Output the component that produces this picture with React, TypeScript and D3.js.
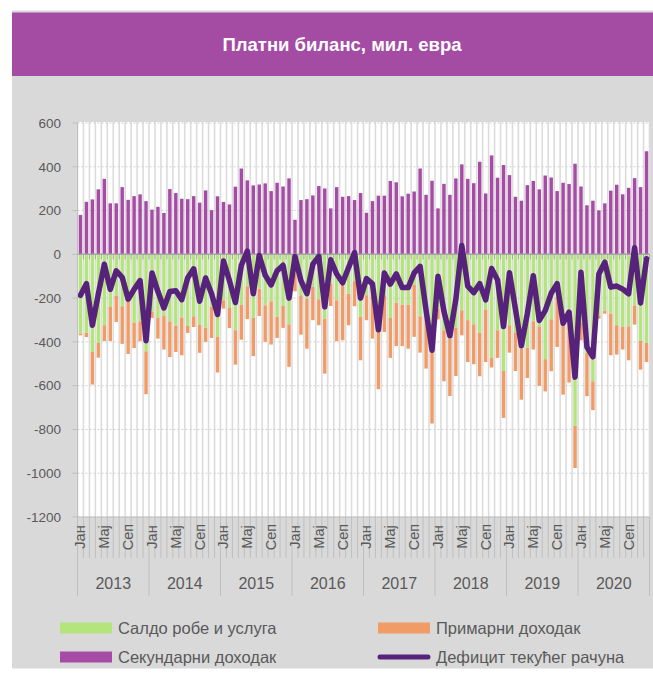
import React from 'react';
import * as d3 from 'd3';

// монатни подаци 2013-2020, мил. евра
const years = [2013, 2014, 2015, 2016, 2017, 2018, 2019, 2020];
const months = ['Јан', 'Феб', 'Мар', 'Апр', 'Мај', 'Јун', 'Јул', 'Авг', 'Сеп', 'Окт', 'Нов', 'Дец'];

const goods = [
  -362, -358, -446, -405, -324, -240, -190, -237, -215, -312, -306, -443,
  -263, -291, -279, -306, -327, -289, -327, -283, -321, -336, -240, -377,
  -210, -244, -347, -230, -146, -291, -157, -233, -215, -286, -236, -320,
  -88, -187, -202, -149, -205, -294, -134, -210, -139, -180, -123, -286,
  -187, -157, -355, -187, -291, -221, -230, -230, -139, -283, -256, -446,
  -248, -347, -385, -336, -256, -301, -320, -359, -253, -472, -347, -533,
  -324, -359, -431, -428, -306, -329, -479, -297, -195, -324, -271, -784,
  -312, -451, -580, -279, -259, -271, -324, -332, -329, -233, -396, -405,
];

const primary = [
  -8, -20, -149, -67, -72, -156, -119, -172, -240, -116, -91, -196,
  -28, -94, -156, -163, -119, -172, -32, -49, -129, -64, -142, -163,
  -38, -93, -157, -160, -150, -174, -125, -167, -197, -96, -100, -194,
  -81, -180, -229, -152, -119, -251, -102, -187, -254, -144, -114, -198,
  -114, -228, -261, -168, -182, -198, -189, -201, -238, -166, -266, -327,
  -49, -233, -262, -220, -114, -191, -182, -198, -239, -45, -126, -214,
  -125, -174, -233, -137, -129, -272, -147, -237, -228, -317, -315, -192,
  -81, -197, -132, -15, -12, -190, -134, -103, -155, -88, -131, -87,
];

const secondary = [
  180, 240, 251, 297, 345, 233, 233, 307, 249, 266, 274, 243,
  204, 217, 189, 298, 280, 254, 252, 266, 236, 292, 202, 265,
  239, 228, 309, 392, 338, 315, 319, 324, 289, 327, 310, 347,
  158, 248, 252, 269, 312, 301, 210, 307, 263, 266, 248, 280,
  190, 243, 268, 268, 335, 329, 265, 277, 287, 392, 272, 336,
  210, 322, 272, 347, 411, 345, 325, 423, 278, 452, 350, 408,
  362, 263, 245, 316, 335, 297, 360, 351, 289, 327, 321, 414,
  310, 224, 245, 201, 233, 291, 318, 274, 304, 348, 307, 471,
];

const currentAccount = [
  -187, -134, -324, -180, -45, -160, -75, -105, -205, -160, -120, -395,
  -85, -170, -245, -170, -166, -207, -107, -66, -214, -108, -180, -275,
  -30, -120, -220, -50, 15, -180, -5, -95, -140, -75, -50, -200,
  -10, -120, -180, -45, -10, -240, -25, -90, -130, -60, 8, -200,
  -111, -135, -345, -85, -136, -89, -152, -152, -85, -55, -255, -438,
  -100, -260, -372, -205, 40, -145, -175, -134, -208, -65, -117, -330,
  -84, -250, -418, -270, -98, -302, -257, -178, -134, -315, -264, -561,
  -82, -424, -468, -90, -36, -150, -145, -159, -180, 30, -222, -20,
];

const yTicks = [600, 400, 200, 0, -200, -400, -600, -800, -1000, -1200];

const legendItems = [
  { label: 'Салдо робе и услуга', color: '#b3e57c', type: 'rect' },
  { label: 'Примарни доходак', color: '#f19c66', type: 'rect' },
  { label: 'Секундарни доходак', color: '#a64ca6', type: 'rect' },
  { label: 'Дефицит текућег рачуна', color: '#57227b', type: 'line' },
];

const W = 653;
const H = 675;
const plot = { left: 77.5, right: 649.5, top: 123, bottom: 517 };
const font = '"Liberation Sans", Arial, sans-serif';
const textColor = '#595959';

export default function App() {
  const idx = d3.range(years.length * 12);
  const x = d3
    .scaleBand<number>()
    .domain(idx)
    .range([plot.left, plot.right])
    .paddingInner(0.42)
    .paddingOuter(0.21);
  const step = x.step();
  const y = d3.scaleLinear().domain([-1200, 600]).range([plot.bottom, plot.top]);
  const cx = (i: number) => (x(i) as number) + x.bandwidth() / 2;
  const edge = (i: number) => plot.left + i * step;

  const line = d3
    .line<number>()
    .x((d, i) => cx(i))
    .y(d => y(d));

  return (
    <svg width={W} height={H} style={{ position: 'absolute', left: 0, top: 0 }} fontFamily={font}>
      <rect x={0} y={0} width={W} height={H} fill="#fff" />
      <rect x={12} y={10.5} width={W - 12} height={658} fill="#d9d9d9" />
      <rect x={12} y={12.5} width={W - 12} height={63.5} fill="#a44ba4" />
      <text x={342} y={51} textAnchor="middle" fill="#fff" fontWeight="bold" fontSize={18.5}>
        Платни биланс, мил. евра
      </text>

      <rect x={plot.left} y={plot.top - 1} width={plot.right - plot.left} height={plot.bottom - plot.top + 1} fill="#fff" />

      {/* вертикалне линије мреже */}
      {d3.range(idx.length + 1).map(i => (
        <line key={'v' + i} x1={edge(i)} x2={edge(i)} y1={plot.top - 1} y2={plot.bottom} stroke="#dcdcdc" strokeWidth={1.6} />
      ))}
      {yTicks.map(t => (
        <line key={'h' + t} x1={plot.left} x2={plot.right} y1={y(t)} y2={y(t)} stroke="#cfcfcf" strokeWidth={1} strokeDasharray="2,2" />
      ))}

      {/* стубови */}
      {idx.map(i => (
        <g key={'b' + i}>
          <rect x={x(i)} width={x.bandwidth()} y={y(secondary[i])} height={y(0) - y(secondary[i])} fill="#a64ca6" />
          <rect x={x(i)} width={x.bandwidth()} y={y(0)} height={y(goods[i]) - y(0)} fill="#b3e57c" />
          <rect
            x={x(i)}
            width={x.bandwidth()}
            y={y(goods[i])}
            height={y(goods[i] + primary[i]) - y(goods[i])}
            fill="#f19c66"
          />
        </g>
      ))}

      {/* оса на нули */}
      <line x1={plot.left} x2={plot.right} y1={y(0)} y2={y(0)} stroke="#a6a6a6" strokeWidth={1.5} />
      {d3.range(idx.length + 1).map(i => (
        <line key={'t0' + i} x1={edge(i)} x2={edge(i)} y1={y(0)} y2={y(0) + 5} stroke="#a6a6a6" strokeWidth={1} />
      ))}

      <path d={line(currentAccount) || ''} fill="none" stroke="#57227b" strokeWidth={5.5} strokeLinejoin="round" strokeLinecap="round" />

      {/* y оса */}
      <line x1={plot.left} x2={plot.left} y1={plot.top} y2={plot.bottom} stroke="#bfbfbf" strokeWidth={1} />
      {yTicks.map(t => (
        <g key={'yt' + t}>
          <line x1={plot.left - 5} x2={plot.left} y1={y(t)} y2={y(t)} stroke="#bfbfbf" />
          <text x={61} y={y(t)} dy="0.35em" textAnchor="end" fontSize={13.5} fill={textColor}>
            {t}
          </text>
        </g>
      ))}

      {/* категоријска оса */}
      <line x1={plot.left} x2={plot.right} y1={plot.bottom} y2={plot.bottom} stroke="#bfbfbf" />
      {d3.range(idx.length + 1).map(i => (
        <line
          key={'mt' + i}
          x1={edge(i)}
          x2={edge(i)}
          y1={plot.bottom}
          y2={i % 12 === 0 ? 596 : 558}
          stroke="#bfbfbf"
          strokeWidth={1}
        />
      ))}
      {idx
        .filter(i => i % 4 === 0)
        .map(i => (
          <text
            key={'ml' + i}
            transform={`translate(${cx(i)},537) rotate(-90)`}
            textAnchor="middle"
            dominantBaseline="central"
            fontSize={14.5}
            fill={textColor}
          >
            {months[i % 12]}
          </text>
        ))}
      {years.map((yr, k) => (
        <text key={yr} x={edge(k * 12 + 6)} y={589} textAnchor="middle" fontSize={16} fill={textColor}>
          {yr}
        </text>
      ))}

      {/* легенда */}
      {legendItems.map((it, k) => {
        const lx = k % 2 === 0 ? 60 : 378;
        const ly = k < 2 ? 628 : 657;
        return (
          <g key={it.label}>
            {it.type === 'rect' ? (
              <rect x={lx} y={ly - 5.5} width={52} height={11} fill={it.color} />
            ) : (
              <line x1={lx + 2} x2={lx + 50} y1={ly} y2={ly} stroke={it.color} strokeWidth={5} strokeLinecap="round" />
            )}
            <text x={lx + 58} y={ly} dy="0.36em" fontSize={16.5} fill={textColor}>
              {it.label}
            </text>
          </g>
        );
      })}
    </svg>
  );
}
